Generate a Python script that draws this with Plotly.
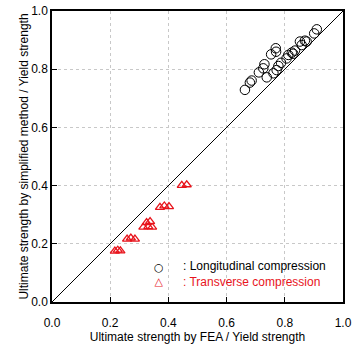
import plotly.graph_objects as go

# Longitudinal compression (FEA, simplified)
long_fea = [0.663, 0.680, 0.686, 0.711, 0.726, 0.730, 0.738, 0.753, 0.769, 0.770,
            0.761, 0.772, 0.778, 0.787, 0.806, 0.812, 0.824, 0.835, 0.852, 0.858,
            0.869, 0.875, 0.901, 0.910, 0.829]
long_simp = [0.729, 0.754, 0.761, 0.789, 0.803, 0.817, 0.772, 0.851, 0.872, 0.860,
             0.786, 0.797, 0.811, 0.822, 0.837, 0.849, 0.857, 0.864, 0.895, 0.883,
             0.898, 0.895, 0.923, 0.937, 0.853]

# Transverse compression
trans_fea = [0.216, 0.226, 0.235, 0.258, 0.271, 0.285, 0.314, 0.331, 0.344, 0.325,
             0.337, 0.371, 0.386, 0.402, 0.446, 0.463]
trans_simp = [0.175, 0.178, 0.176, 0.216, 0.220, 0.216, 0.257, 0.259, 0.257, 0.273,
              0.276, 0.325, 0.330, 0.328, 0.401, 0.403]

diag = [0.0, 1.0]
tick_vals = [0.0, 0.2, 0.4, 0.6, 0.8, 1.0]
tick_text = ["0.0", "0.2", "0.4", "0.6", "0.8", "1.0"]

legend_labels = [": Longitudinal compression", ": Transverse compression"]

FONT = "Arial, Liberation Sans, sans-serif"
RED = "#e8141c"

fig = go.Figure()
fig.add_trace(go.Scatter(x=diag, y=diag, mode="lines",
                         line=dict(color="black", width=1), showlegend=False,
                         hoverinfo="skip"))
fig.add_trace(go.Scatter(x=long_fea, y=long_simp, mode="markers",
                         marker=dict(symbol="circle-open", size=9.5, color="black",
                                     line=dict(width=1)),
                         showlegend=False))
fig.add_trace(go.Scatter(x=trans_fea, y=trans_simp, mode="markers",
                         marker=dict(symbol="triangle-up-open", size=8, color=RED,
                                     line=dict(width=1.3)),
                         showlegend=False))

axis_common = dict(range=[0, 1], tickvals=tick_vals, ticktext=tick_text,
                   showgrid=True, gridcolor="#c8c8c8", griddash="dot", gridwidth=1,
                   zeroline=False, showline=True, linecolor="black", linewidth=1.5,
                   mirror=True, ticks="inside", ticklen=5, tickcolor="black",
                   automargin=False,
                   tickfont=dict(family=FONT, size=12, color="black"))

fig.update_layout(
    width=353, height=347,
    margin=dict(l=52, r=10, t=11, b=45),
    plot_bgcolor="white", paper_bgcolor="white",
    xaxis=dict(**axis_common, ticklabelstandoff=9,
               title=dict(text="Ultimate strength by FEA / Yield strength",
                          font=dict(family=FONT, size=12, color="black"), standoff=2)),
    yaxis=dict(**axis_common,
               title=dict(text="Ultimate strength by simplified method / Yield strength",
                          font=dict(family=FONT, size=12, color="black"), standoff=0)),
    showlegend=False,
)

# Legend drawn as two multi-line annotations (symbols, labels)
fig.add_annotation(x=0.368, y=0.096, xref="paper", yref="paper",
                   text="○<br><span style='color:%s'>△</span>" % RED,
                   xanchor="center", yanchor="middle", align="center",
                   showarrow=False, font=dict(family="DejaVu Sans", size=11, color="black"))
fig.add_annotation(x=0.442, y=0.096, xref="paper", yref="paper", xanchor="left",
                   yanchor="middle", align="left",
                   text="%s<br><span style='color:%s'>%s</span>" % (legend_labels[0], RED, legend_labels[1]),
                   showarrow=False,
                   font=dict(family=FONT, size=12, color="black"))

fig.write_html("out.html")
